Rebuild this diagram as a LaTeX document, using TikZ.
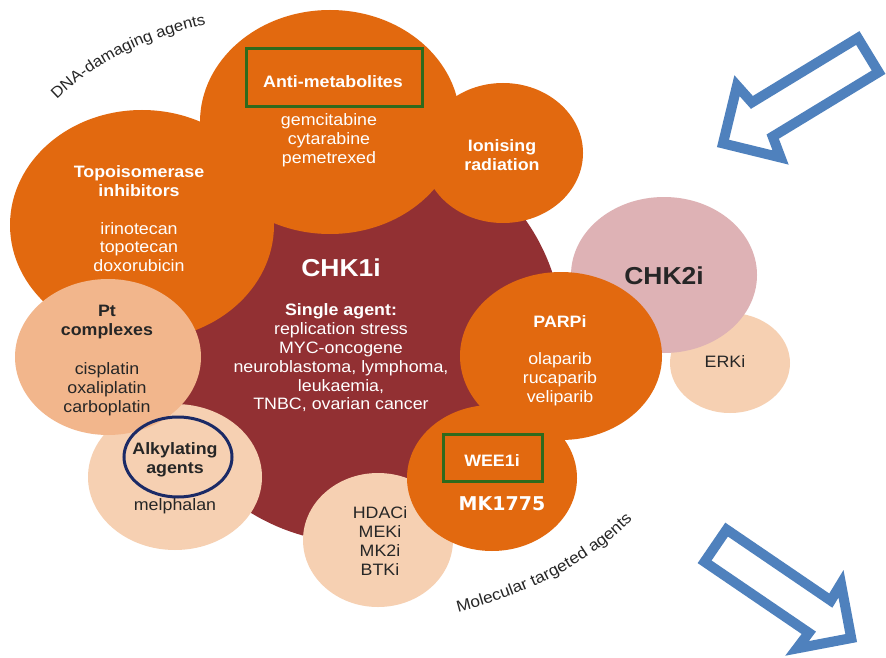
\documentclass[tikz,border=0pt]{standalone}
\usepackage{fontspec}
\setmainfont{Liberation Sans}[FakeStretch=1.08]
\newfontfamily\mkfont{DejaVu Sans}
\usetikzlibrary{shapes.geometric,shadows,decorations.text}
\definecolor{orng}{HTML}{E2690F}
\definecolor{dred}{HTML}{923033}
\definecolor{ptc}{HTML}{F2B68C}
\definecolor{lpch}{HTML}{F6D0B2}
\definecolor{pnk}{HTML}{DEB2B5}
\definecolor{grn}{HTML}{2F6A1C}
\definecolor{navy}{HTML}{1B2A66}
\definecolor{arrblue}{HTML}{4F81BD}
\definecolor{dtext}{HTML}{262626}
\begin{document}
\begin{tikzpicture}[x=1pt,y=-1pt,
  blob/.style={ellipse, inner sep=0pt, draw=none},
  wt/.style={text=white, align=center, inner sep=0pt, font=\fontsize{16.5}{18.8}\selectfont},
  wtb/.style={wt, font=\bfseries\fontsize{16.5}{18.8}\selectfont},
  dk/.style={text=dtext, align=center, inner sep=0pt, font=\fontsize{16.5}{18.8}\selectfont},
  dkb/.style={dk, font=\bfseries\fontsize{16.5}{18.8}\selectfont},
  hibox/.style={draw=grn, line width=3pt, fill=none},
  bigarrow/.style={draw=arrblue, fill=white, line width=10pt, line join=miter, miter limit=20,
    drop shadow={shadow xshift=3pt, shadow yshift=-3pt, opacity=0.2, fill=black}},
  curvtext/.style={decorate, decoration={text along path, text align=left, text={#1}}}
]
\useasboundingbox (0,0) rectangle (886,658);
\fill[white] (0,0) rectangle (886,658);

% circles
\node[blob, fill=dred, minimum width=410pt, minimum height=410pt] (chk1) at (358,338) {};
\node[blob, fill=orng, minimum width=264pt, minimum height=230pt] (topo) at (142,225) {};
\node[blob, fill=orng, minimum width=260pt, minimum height=224pt] (anti) at (330,122) {};
\node[blob, fill=orng, minimum width=160pt, minimum height=140pt] (ion) at (503,153) {};
\node[blob, fill=lpch, minimum width=120pt, minimum height=100pt] (erk) at (730,363) {};
\node[blob, fill=pnk, minimum width=186pt, minimum height=156pt] (chk2) at (664,275) {};
\node[blob, fill=orng, minimum width=202pt, minimum height=168pt] (parp) at (561,356) {};
\node[blob, fill=lpch, minimum width=150pt, minimum height=134pt] (hdac) at (378,540) {};
\node[blob, fill=orng, minimum width=170pt, minimum height=146pt] (wee) at (492,478) {};
\node[blob, fill=lpch, minimum width=174pt, minimum height=146pt] (alk) at (175,477) {};
\node[blob, fill=ptc, minimum width=186pt, minimum height=156pt] (pt) at (108,357) {};

% highlight boxes
\node[hibox, minimum width=176pt, minimum height=58pt, inner sep=0pt] (antibox) at (334,78) {};
\node[hibox, minimum width=99pt, minimum height=47pt, inner sep=0pt] (weebox) at (492.5,457.5) {};
\node[ellipse, draw=navy, line width=3pt, minimum width=108pt, minimum height=80pt, inner sep=0pt] (alkring) at (178,457) {};

% texts
\node[wtb] (tantih) at (333,82) {Anti-metabolites};
\node[wt] (tanti) at (329,140) {gemcitabine\\cytarabine\\pemetrexed};
\node[wtb] (ttopoh) at (139,181) {Topoisomerase\\inhibitors};
\node[wt] (ttopo) at (139,247) {irinotecan\\topotecan\\doxorubicin};
\node[wtb] (tion) at (502,155) {Ionising\\radiation};
\node[wtb, font=\bfseries\fontsize{24.5}{26}\selectfont] (tchk1) at (341,268) {CHK1i};
\node[wt] (tsingle) at (341,358) {\textbf{Single agent:}\\replication stress\\MYC-oncogene\\neuroblastoma, lymphoma,\\leukaemia,\\TNBC, ovarian cancer};
\node[wtb] (tparph) at (560,322) {PARPi};
\node[wt] (tparp) at (560,379) {olaparib\\rucaparib\\veliparib};
\node[dkb, text=black!85, font=\bfseries\fontsize{24.5}{26}\selectfont] (tchk2) at (664,276) {CHK2i};
\node[dk] (terk) at (725,362) {ERKi};
\node[dkb] (tpth) at (107,322) {Pt\\complexes};
\node[dk] (tpt) at (107,389) {cisplatin\\oxaliplatin\\carboplatin};
\node[dkb] (talkh) at (175,460) {Alkylating\\agents};
\node[dk] (talk) at (175,506) {melphalan};
\node[dk] (thdac) at (380,541) {HDACi\\MEKi\\MK2i\\BTKi};
\node[wtb] (twee) at (492,461) {WEE1i};
\node[wt, font=\mkfont\bfseries\fontsize{19}{21}\selectfont] (tmk) at (502,504) {MK1775};

% curved labels
\path[curvtext={|\fontsize{15.5}{16}\selectfont\color{dtext}|DNA-damaging agents}]
  (57,100) .. controls (95,62) and (150,35) .. (218,22);
\path[curvtext={|\fontsize{16}{16}\selectfont\color{dtext}|Molecular targeted agents}]
  (458,612) .. controls (525,595) and (600,562) .. (650,500);

% arrows
\draw[bigarrow] (723.0,143.4) -- (737.0,85.7) -- (751.9,102.4) -- (857.8,38.0) -- (878.6,72.2) -- (772.7,136.6) -- (780.6,157.5) -- cycle;
\draw[bigarrow] (851.2,638.1) -- (841.0,583.8) -- (830.8,600.6) -- (726.6,529.6) -- (704.6,561.8) -- (808.8,632.8) -- (797.0,648.4) -- cycle;
\end{tikzpicture}
\end{document}
